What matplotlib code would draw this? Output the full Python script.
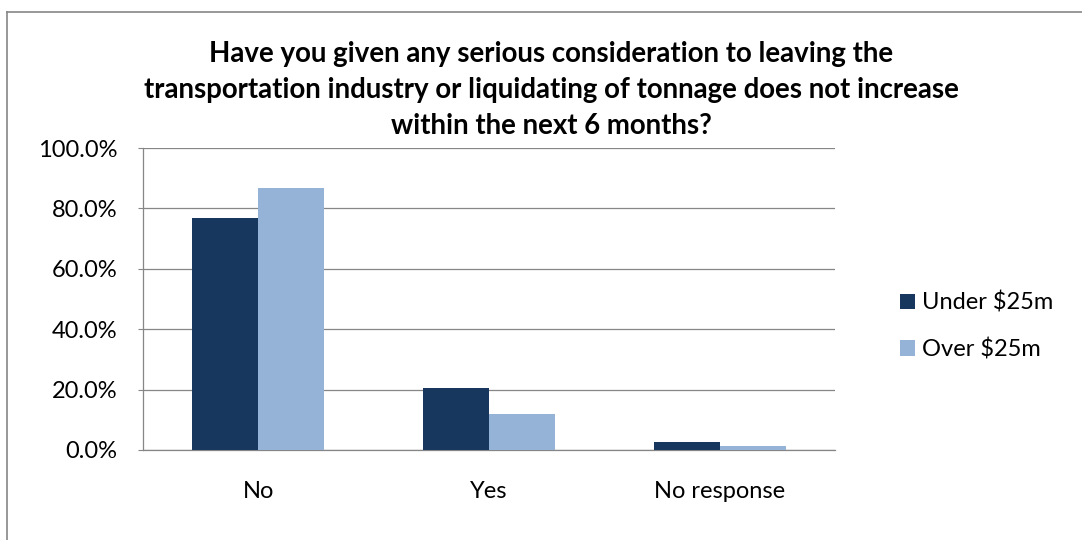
import numpy as np
import matplotlib.pyplot as plt
from matplotlib.lines import Line2D
from matplotlib.ticker import FuncFormatter

# Survey answers, share of respondents (%)
categories = ["No", "Yes", "No response"]
under_25m = [76.9, 20.4, 2.5]
over_25m = [86.7, 11.8, 1.3]
series_names = ["Under $25m", "Over $25m"]
title = ("Have you given any serious consideration to leaving the\n"
         "transportation industry or liquidating of tonnage does not increase\n"
         "within the next 6 months?")

DARK = "#17375E"
LIGHT = "#95B3D7"
GRID = "#868686"

plt.rcParams['font.family'] = ['Lato', 'DejaVu Sans']

W, H = 1082, 540
fig = plt.figure(figsize=(W / 100, H / 100), dpi=100)
ax = fig.add_axes([143 / W, 1 - 450 / H, 692 / W, 302 / H])

# chart area border (top and left edges visible)
fig.add_artist(Line2D([7 / W, 1], [1 - 12 / H, 1 - 12 / H], color=GRID, lw=1.2))
fig.add_artist(Line2D([7 / W, 7 / W], [0, 1 - 12 / H], color=GRID, lw=1.2))

x = np.arange(len(categories))
bw = 1 / 3.5  # gap width 150%
ax.bar(x - bw / 2, np.array(under_25m) / 100, bw, color=DARK, label=series_names[0], zorder=3)
ax.bar(x + bw / 2, np.array(over_25m) / 100, bw, color=LIGHT, label=series_names[1], zorder=3)

ax.set_xlim(-0.5, 2.5)
ax.set_ylim(0, 1.0)
ax.set_yticks(np.arange(0, 1.01, 0.2))
ax.yaxis.set_major_formatter(FuncFormatter(lambda v, p: f"{v * 100:.1f}%"))
ax.set_xticks(x)
ax.set_xticklabels(categories)

ax.grid(axis='y', color=GRID, lw=0.9, zorder=0)
for s in ['top', 'right']:
    ax.spines[s].set_visible(False)
for s in ['left', 'bottom']:
    ax.spines[s].set_color(GRID)
    ax.spines[s].set_linewidth(0.9)
ax.tick_params(axis='y', length=3.6, color=GRID, pad=15, labelsize=17)
ax.tick_params(axis='x', length=0, pad=22, labelsize=17)

fig.text(551 / W, 1 - 90 / H, title, ha='center', va='center', fontsize=19.9,
         fontweight='bold', linespacing=1.47)

fig.legend(loc='center left', bbox_to_anchor=(900 / W, 1 - 326 / H), frameon=False,
           fontsize=17, handlelength=0.64, handleheight=0.64, handletextpad=0.3,
           labelspacing=1.04, borderpad=0, borderaxespad=0)

fig.savefig("out.png", dpi=100)
